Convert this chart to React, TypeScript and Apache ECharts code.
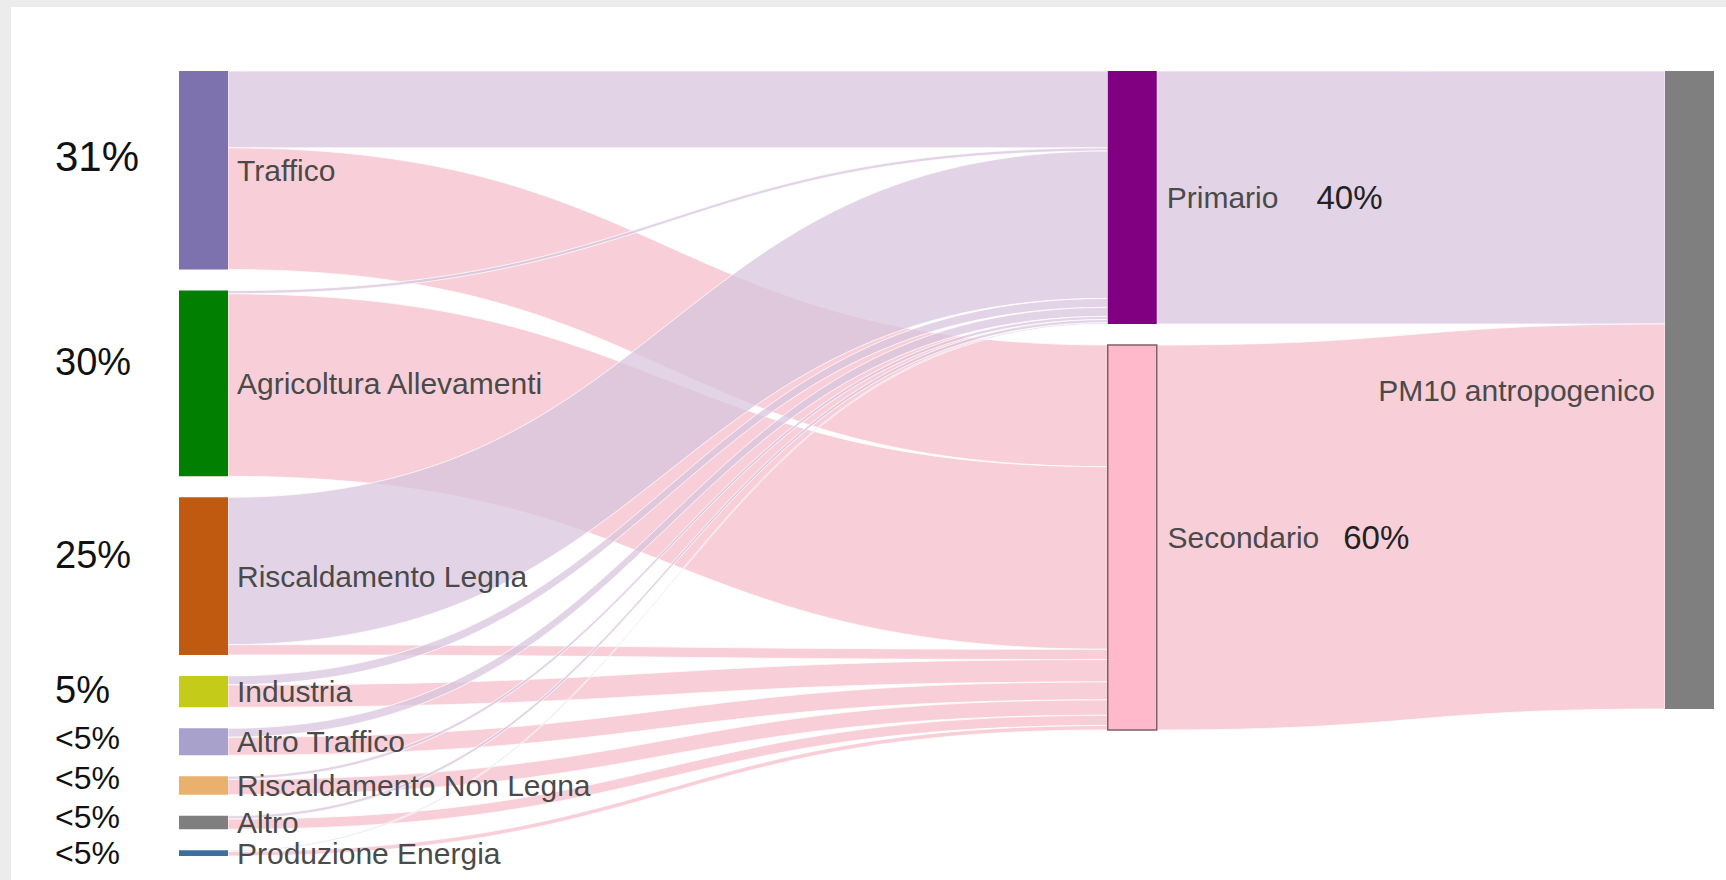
import React, { useEffect, useRef } from 'react';
import * as echarts from 'echarts';

// ---- data ----
const SOURCES = [
  'Traffico',
  'Agricoltura Allevamenti',
  'Riscaldamento Legna',
  'Industria',
  'Altro Traffico',
  'Riscaldamento Non Legna',
  'Altro',
  'Produzione Energia',
];
const SOURCE_SHARES = ['31%', '30%', '25%', '5%', '<5%', '<5%', '<5%', '<5%'];
const TO_PRIMARIO = [12, 0.5, 23, 1.4, 1.4, 0.5, 0.5, 0.2];
const TO_SECONDARIO = [19, 28.5, 1.6, 3.5, 2.8, 2.4, 1.6, 0.7];
const STAGES = ['Primario', 'Secondario'];
const STAGE_SHARES = ['40%', '60%'];
const TOTAL = 'PM10 antropogenico';

// ---- styles ----
const NODE_COLORS: Record<string, string> = {
  Traffico: '#7d71ae',
  'Agricoltura Allevamenti': '#007f00',
  'Riscaldamento Legna': '#bf5a10',
  Industria: '#c5cb19',
  'Altro Traffico': '#a7a1cc',
  'Riscaldamento Non Legna': '#eab06e',
  Altro: '#7f7f7f',
  'Produzione Energia': '#3c6e9e',
  Primario: '#810081',
  Secondario: '#ffb9ca',
  'PM10 antropogenico': '#7f7f7f',
};
const STAGE_LINK_COLORS = ['#d8c6de', '#f6bfcb'];
const SHARE_FONT = [42, 38, 38, 38, 32, 32, 32, 32];
const SHARE_RAISE = [14, 21, 21, 2, 4, 7, 6, 0];
const STAGE_GAP = [38, 24];
const LAYER = { source: 0, stage: 5, total: 8 };
const FONT = '"Liberation Sans", Arial, sans-serif';

export default function App() {
  const ref = useRef<HTMLDivElement>(null);

  useEffect(() => {
    if (!ref.current) return;
    const chart = echarts.init(ref.current, null, { renderer: 'svg' });

    const rich: Record<string, any> = {
      n: { fontSize: 30, color: '#4a4a4a', fontFamily: FONT, verticalAlign: 'middle' },
    };
    SOURCES.forEach((_, i) => {
      rich['p' + i] = {
        fontSize: SHARE_FONT[i],
        color: '#111',
        fontFamily: FONT,
        width: 182,
        align: 'left',
        verticalAlign: 'middle',
        padding: [0, 0, 2 * SHARE_RAISE[i], 0],
      };
    });
    STAGES.forEach((_, i) => {
      rich['m' + i] = {
        fontSize: 33,
        color: '#222',
        fontFamily: FONT,
        verticalAlign: 'middle',
        padding: [0, 0, 0, STAGE_GAP[i]],
      };
    });

    const nodes: any[] = [
      ...SOURCES.map((name, i) => ({
        name,
        depth: LAYER.source,
        itemStyle: { color: NODE_COLORS[name] },
        label: {
          position: [-124, '50%'],
          align: 'left',
          verticalAlign: 'middle',
          formatter: `{p${i}|${SOURCE_SHARES[i]}}{n|${name}}`,
        },
      })),
      ...STAGES.map((name, i) => ({
        name,
        depth: LAYER.stage,
        itemStyle:
          i === 1
            ? { color: NODE_COLORS[name], borderColor: '#7f5f69', borderWidth: 1.5 }
            : { color: NODE_COLORS[name] },
        label: {
          position: 'right',
          distance: 10,
          formatter: `{n|${name}}{m${i}|${STAGE_SHARES[i]}}`,
        },
      })),
      {
        name: TOTAL,
        depth: LAYER.total,
        itemStyle: { color: NODE_COLORS[TOTAL] },
        label: { position: 'left', distance: 10, formatter: `{n|${TOTAL}}` },
      },
    ];

    const links: any[] = [];
    SOURCES.forEach((s, i) => {
      links.push({ source: s, target: STAGES[0], value: TO_PRIMARIO[i], lineStyle: { color: STAGE_LINK_COLORS[0] } });
      links.push({ source: s, target: STAGES[1], value: TO_SECONDARIO[i], lineStyle: { color: STAGE_LINK_COLORS[1] } });
    });
    const stageTotals = [TO_PRIMARIO, TO_SECONDARIO].map((arr) => arr.reduce((a, b) => a + b, 0));
    STAGES.forEach((st, j) => {
      links.push({ source: st, target: TOTAL, value: stageTotals[j], lineStyle: { color: STAGE_LINK_COLORS[j] } });
    });

    chart.setOption({
      animation: false,
      tooltip: { show: false },
      series: [
        {
          type: 'sankey',
          left: 168,
          top: 64,
          right: 12,
          bottom: 24,
          nodeWidth: 49,
          nodeGap: 21,
          layoutIterations: 0,
          draggable: false,
          emphasis: { disabled: true },
          data: nodes,
          links,
          itemStyle: { borderWidth: 0 },
          lineStyle: { opacity: 0.75, curveness: 0.5, borderColor: '#ffffff', borderWidth: 1 },
          label: { show: true, fontFamily: FONT, rich },
        },
      ],
    });

    return () => chart.dispose();
  }, []);

  return (
    <div
      style={{
        position: 'fixed',
        left: 0,
        top: 0,
        width: 1726,
        height: 880,
        background: '#ececec',
        overflow: 'hidden',
      }}
    >
      <div
        ref={ref}
        style={{ position: 'absolute', left: 11, top: 7, width: 1715, height: 873, background: '#ffffff' }}
      />
    </div>
  );
}
